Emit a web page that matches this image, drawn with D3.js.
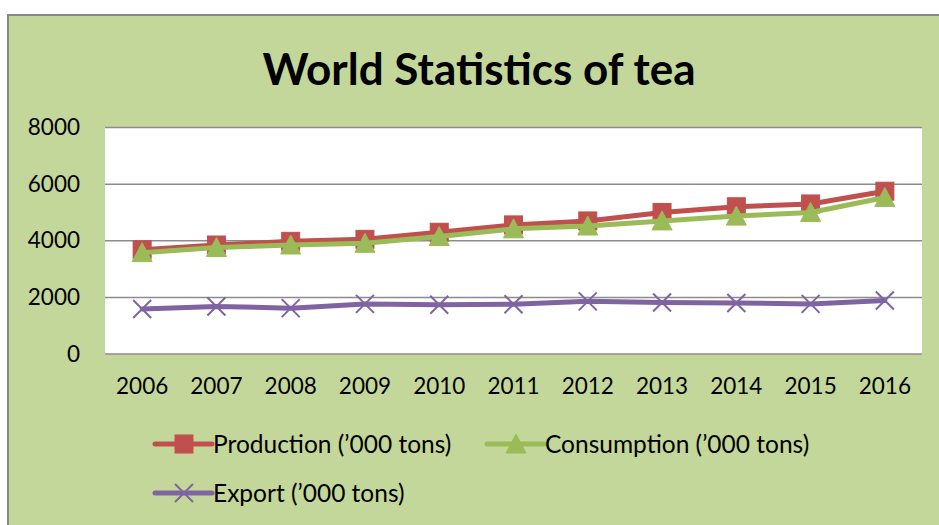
<!DOCTYPE html>
<html>
<head>
<meta charset="utf-8">
<script src="https://cdn.jsdelivr.net/npm/d3@7"></script>
<style>
  html, body { margin: 0; padding: 0; background: #ffffff; }
  svg { display: block; }
  text { font-family: Lato, "Open Sans", sans-serif; fill: #000; }
</style>
</head>
<body>
<script>
// World tea statistics, thousand tons per year
const years = ["2006","2007","2008","2009","2010","2011","2012","2013","2014","2015","2016"];
const production  = [3680, 3850, 3980, 4050, 4300, 4560, 4700, 5000, 5200, 5300, 5750];
const consumption = [3580, 3760, 3850, 3910, 4150, 4420, 4520, 4700, 4870, 5000, 5530];
const exportVals  = [1590, 1680, 1620, 1770, 1740, 1760, 1860, 1820, 1800, 1770, 1890];
const yTicks = [0, 2000, 4000, 6000, 8000];
const seriesNames = ["Production (\u2019000 tons)", "Consumption (\u2019000 tons)", "Export (\u2019000 tons)"];

const W = 939, H = 525;
const plot = { left: 105, right: 922, top: 127.5, bottom: 354 };

const svg = d3.select("body").append("svg").attr("width", W).attr("height", H);

// chart background with border
svg.append("rect")
  .attr("x", 8).attr("y", 15).attr("width", W + 10).attr("height", H + 10)
  .attr("fill", "#c4d79b").attr("stroke", "#878787").attr("stroke-width", 2);

// plot area
svg.append("rect")
  .attr("x", plot.left).attr("y", plot.top)
  .attr("width", plot.right - plot.left).attr("height", plot.bottom - plot.top)
  .attr("fill", "#ffffff");

svg.append("text")
  .attr("x", 479).attr("y", 85)
  .attr("text-anchor", "middle")
  .style("font-size", "44px").style("font-weight", "bold")
  .text("World Statistics of tea");

const x = d3.scaleBand().domain(years).range([plot.left, plot.right]);
const y = d3.scaleLinear().domain([0, 8000]).range([plot.bottom, plot.top]);
const cx = d => x(d) + x.bandwidth() / 2;

// horizontal gridlines
svg.append("g").selectAll("line").data(yTicks).join("line")
  .attr("x1", plot.left).attr("x2", plot.right)
  .attr("y1", d => y(d)).attr("y2", d => y(d))
  .attr("stroke", "#8c8c8c").attr("stroke-width", 1.5);

// y axis labels
const yAxis = svg.append("g")
  .attr("transform", `translate(${plot.left},0)`)
  .call(d3.axisLeft(y).tickValues(yTicks).tickSize(0).tickPadding(25).tickFormat(d3.format("d")));
yAxis.select(".domain").remove();
yAxis.selectAll("text").style("font-size", "22.5px").style("font-family", "Lato, sans-serif").attr("fill", "#000");

// x axis labels
const xAxis = svg.append("g")
  .attr("transform", `translate(0,${plot.bottom})`)
  .call(d3.axisBottom(x).tickSize(0).tickPadding(24));
xAxis.select(".domain").remove();
xAxis.selectAll("text").style("font-size", "22.5px").style("font-family", "Lato, sans-serif").attr("fill", "#000");

const series = [
  { name: seriesNames[0], values: production,  color: "#c0504d", marker: "square" },
  { name: seriesNames[1], values: consumption, color: "#9bbb59", marker: "triangle" },
  { name: seriesNames[2], values: exportVals,  color: "#8064a2", marker: "cross" }
];

function drawMarker(g, type, color) {
  if (type === "square") {
    g.append("rect").attr("x", -9).attr("y", -9).attr("width", 18).attr("height", 18)
      .attr("fill", color).attr("stroke", color).attr("stroke-width", 1);
  } else if (type === "triangle") {
    g.append("path").attr("d", "M0,-10L10,9L-10,9Z")
      .attr("fill", color).attr("stroke", color).attr("stroke-width", 1);
  } else {
    g.append("path").attr("d", "M-9,-9L9,9M-9,9L9,-9")
      .attr("fill", "none").attr("stroke", color).attr("stroke-width", 2);
  }
}

const line = d3.line().x((d, i) => cx(years[i])).y(d => y(d));

series.forEach(s => {
  svg.append("path").datum(s.values)
    .attr("d", line)
    .attr("fill", "none").attr("stroke", s.color).attr("stroke-width", 5)
    .attr("stroke-linejoin", "round").attr("stroke-linecap", "round");
  svg.append("g").selectAll("g").data(s.values).join("g")
    .attr("transform", (d, i) => `translate(${cx(years[i])},${y(d)})`)
    .each(function () { drawMarker(d3.select(this), s.marker, s.color); });
});

// legend
const legendPos = [[155, 444], [487, 444], [155, 493]];
series.forEach((s, i) => {
  const [lx, ly] = legendPos[i];
  const g = svg.append("g").attr("transform", `translate(${lx},${ly})`);
  g.append("line").attr("x1", 0).attr("x2", 57).attr("y1", 0).attr("y2", 0)
    .attr("stroke", s.color).attr("stroke-width", 5).attr("stroke-linecap", "round");
  const m = g.append("g").attr("transform", "translate(29,0)");
  drawMarker(m, s.marker, s.color);
  g.append("text").attr("x", 58).attr("y", 0).attr("dy", "0.35em")
    .style("font-size", "24.5px").text(s.name);
});
</script>
</body>
</html>
